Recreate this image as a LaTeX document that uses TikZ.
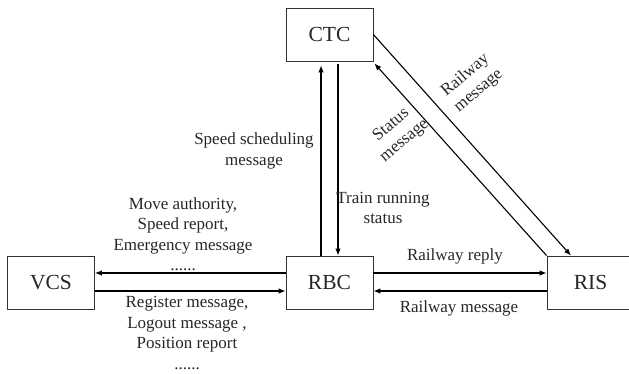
\documentclass[tikz,border=0pt]{standalone}
\usepackage{fontspec}
\setmainfont{Liberation Serif}
\usetikzlibrary{arrows.meta}
\begin{document}
\begin{tikzpicture}[x=1pt,y=-1pt,
  blk/.style={draw=black!80,line width=0.8pt,minimum width=87pt,minimum height=53pt,inner sep=0pt,font=\fontsize{21.5}{24}\selectfont,text=black!85},
  arr/.style={draw=black,line width=1.1pt,-{Latex[length=7pt,width=5.5pt]}},
  ln/.style={draw=black,line width=1.1pt},
  lbl/.style={font=\fontsize{17}{20.5}\selectfont,align=center,text=black!85,inner sep=0pt}]
\useasboundingbox (0,0) rectangle (629,373);
\node[blk] (CTC) at (329.5,34.5) {CTC};
\node[blk] (VCS) at (51,282.5) {VCS};
\node[blk] (RBC) at (329.5,282.5) {RBC};
\node[blk] (RIS) at (590.5,282.5) {RIS};
% VCS <-> RBC
\draw[arr] ([yshift=9.5pt]RBC.west) -- ([yshift=9.5pt]VCS.east);
\draw[arr] ([yshift=-8.5pt]VCS.east) -- ([yshift=-8.5pt]RBC.west);
% RBC <-> RIS
\draw[arr] ([yshift=9.5pt]RBC.east) -- ([yshift=9.5pt]RIS.west);
\draw[arr] ([yshift=-8.5pt]RIS.west) -- ([yshift=-8.5pt]RBC.east);
% RBC <-> CTC
\draw[arr] ([xshift=-8.5pt]RBC.north) -- ([xshift=-8.5pt,yshift=-4pt]CTC.south);
\draw[arr] ([xshift=8.5pt,yshift=-3pt]CTC.south) -- ([xshift=8.5pt]RBC.north);
% CTC <-> RIS
\draw[arr] (CTC.east) -- ([xshift=-19.5pt]RIS.north);
\draw[arr] (RIS.north west) -- ([xshift=1pt,yshift=-2pt]CTC.south east);
% labels
\node[lbl] (l1) at (254,151) {Speed scheduling\\message};
\node[lbl] (l2) at (383,208) {Train running\\status};
\node[lbl] (l3) at (183,234) {Move authority,\\Speed report,\\Emergency message\\......};
\node[lbl] (l4) at (187,333) {Register message,\\Logout message ,\\Position report\\......};
\node[lbl] (l5) at (455,256) {Railway reply};
\node[lbl] (l6) at (459,308) {Railway message};
\node[lbl,rotate=40] (l7) at (472,83) {Railway\\message};
\node[lbl,rotate=40] (l8) at (398,133) {Status\\message};
\end{tikzpicture}
\end{document}
